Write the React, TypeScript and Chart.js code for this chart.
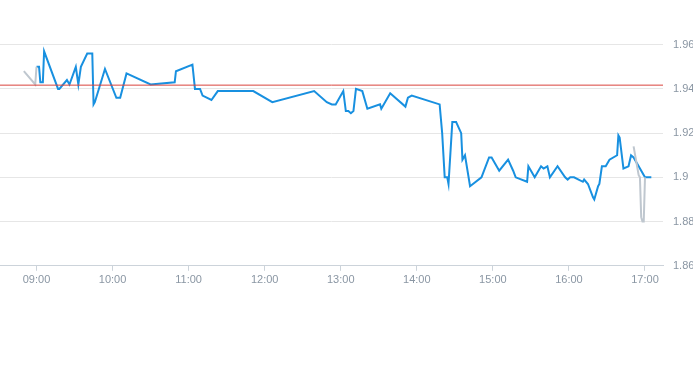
import React, { useEffect, useRef } from "react";
import { Chart, registerables } from "chart.js";

Chart.register(...registerables);

const mainTimes = ["09:00","09:02","09:03","09:05","09:06","09:17","09:18","09:24","09:26","09:31","09:33","09:35","09:40","09:44","09:45","09:46","09:54","10:03","10:06","10:11","10:30","10:49","10:50","11:03","11:05","11:09","11:11","11:18","11:23","11:51","12:06","12:39","12:49","12:53","12:56","13:02","13:04","13:06","13:08","13:10","13:12","13:17","13:21","13:31","13:32","13:39","13:51","13:53","13:56","14:18","14:20","14:22","14:24","14:25","14:28","14:31","14:35","14:36","14:38","14:42","14:51","14:57","14:59","15:05","15:12","15:16","15:18","15:27","15:28","15:33","15:38","15:40","15:43","15:45","15:51","15:57","15:59","16:01","16:04","16:11","16:12","16:15","16:19","16:20","16:23","16:24","16:26","16:29","16:32","16:38","16:39","16:40","16:43","16:47","16:49","16:51","17:00","17:05"];
const mainPrices = [1.950,1.950,1.943,1.943,1.957,1.940,1.940,1.944,1.942,1.950,1.942,1.950,1.956,1.956,1.933,1.934,1.949,1.936,1.936,1.947,1.942,1.943,1.948,1.951,1.940,1.940,1.937,1.935,1.939,1.939,1.934,1.939,1.934,1.933,1.933,1.939,1.930,1.930,1.929,1.930,1.940,1.939,1.931,1.933,1.931,1.938,1.932,1.936,1.937,1.933,1.920,1.900,1.900,1.897,1.925,1.925,1.920,1.908,1.910,1.896,1.900,1.909,1.909,1.903,1.908,1.903,1.900,1.898,1.905,1.900,1.905,1.904,1.905,1.900,1.905,1.900,1.899,1.900,1.900,1.898,1.899,1.897,1.891,1.890,1.896,1.897,1.905,1.905,1.908,1.910,1.919,1.918,1.904,1.905,1.910,1.909,1.900,1.900];

const preTimes = ["08:50","08:59","09:00"];
const prePrices = [1.948,1.942,1.950];

const postTimes = ["16:51","16:55","16:56","16:57","16:58","16:59","17:00"];
const postPrices = [1.914,1.901,1.900,1.882,1.880,1.880,1.900];

const prevClose = 1.9417;

const hourTicks = ["09:00","10:00","11:00","12:00","13:00","14:00","15:00","16:00","17:00"];
const yTicks = [1.86, 1.88, 1.9, 1.92, 1.94, 1.96];

const toMin = (t: string) => {
  const [h, m] = t.split(":").map(Number);
  return h * 60 + m;
};
const fmt = (v: number) => {
  const h = Math.floor(v / 60);
  const m = Math.round(v % 60);
  return String(h).padStart(2, "0") + ":" + String(m).padStart(2, "0");
};

const X_MIN = toMin("08:31") + 0.2;
const X_MAX = toMin("17:14") + 0.2;

export default function App() {
  const ref = useRef<HTMLCanvasElement | null>(null);
  useEffect(() => {
    if (!ref.current) return;
    const pts = (ts: string[], vs: number[]) => ts.map((t, i) => ({ x: toMin(t), y: vs[i] }));
    const chart = new Chart(ref.current, {
      type: "line",
      data: {
        datasets: [
          {
            data: [{ x: X_MIN, y: prevClose }, { x: X_MAX, y: prevClose }],
            borderColor: "#d9433c",
            borderWidth: 1,
            pointRadius: 0,
          },
          {
            data: pts(postTimes, postPrices),
            borderColor: "#bfc7cf",
            borderWidth: 2,
            pointRadius: 0,
          },
          {
            data: pts(preTimes, prePrices),
            borderColor: "#bfc7cf",
            borderWidth: 2,
            pointRadius: 0,
          },
          {
            data: pts(mainTimes, mainPrices),
            borderColor: "#1890e0",
            borderWidth: 2,
            pointRadius: 0,
          },
        ],
      },
      options: {
        animation: false,
        responsive: false,
        layout: { padding: { left: 0, top: 0, right: 0, bottom: 75 } },
        plugins: { legend: { display: false }, tooltip: { enabled: false } },
        scales: {
          x: {
            type: "linear",
            min: X_MIN,
            max: X_MAX,
            afterBuildTicks: (s: any) => {
              s.ticks = hourTicks.map((t) => ({ value: toMin(t) }));
            },
            grid: { drawOnChartArea: false, drawTicks: true, tickLength: 5, color: "#ccd3da" },
            border: { display: true, color: "#ccd3da" },
            ticks: {
              color: "#8a96a3",
              font: { family: "Liberation Sans", size: 11 },
              padding: 3,
              maxRotation: 0,
              autoSkip: false,
              callback: (v: any) => fmt(Number(v)),
            },
          },
          y: {
            position: "right",
            min: 1.86,
            max: 1.9727,
            afterBuildTicks: (s: any) => {
              s.ticks = yTicks.map((v) => ({ value: v }));
            },
            afterFit: (s: any) => {
              s.width = 30;
            },
            grid: { color: "#e6e6e6", drawTicks: false },
            border: { display: false },
            ticks: {
              color: "#8a96a3",
              font: { family: "Liberation Sans", size: 11 },
              padding: 10,
              callback: (v: any) => String(Number(Number(v).toFixed(2))),
            },
          },
        },
      },
    } as any);
    return () => chart.destroy();
  }, []);
  return (
    <div style={{ position: "absolute", left: 0, top: 0, width: 693, height: 365, background: "#fff" }}>
      <canvas ref={ref} width={693} height={365} />
    </div>
  );
}
